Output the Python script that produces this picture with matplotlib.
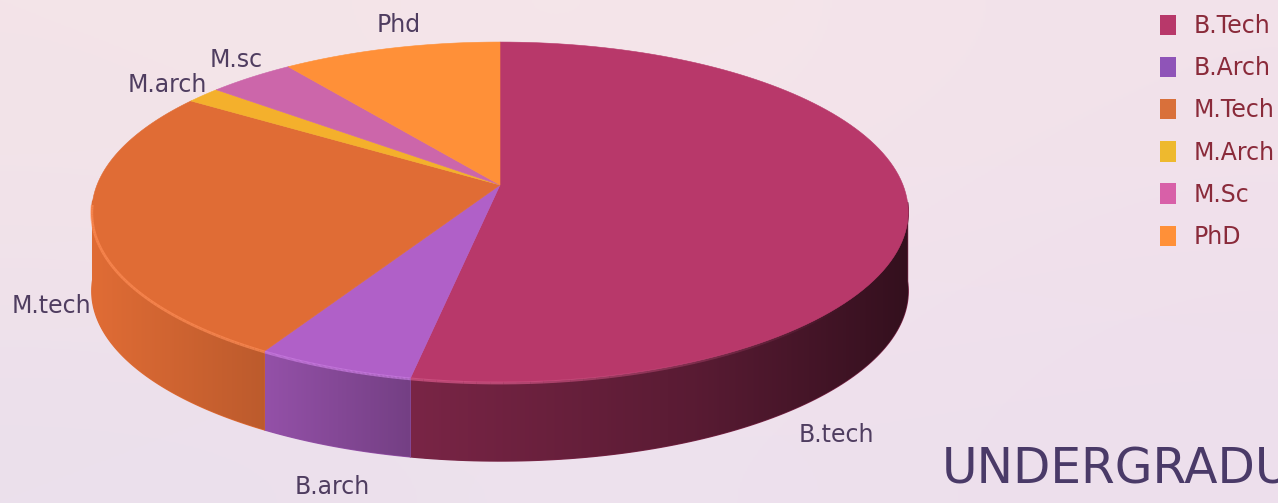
import numpy as np
import matplotlib
matplotlib.use('Agg')
import matplotlib.pyplot as plt
from matplotlib.patches import Patch, Polygon
from matplotlib.colors import to_rgb

# slice data, clockwise from 12 o'clock
slice_labels = ['B.tech', 'B.arch', 'M.tech', 'M.arch', 'M.sc', 'Phd']
legend_labels = ['B.Tech', 'B.Arch', 'M.Tech', 'M.Arch', 'M.Sc', 'PhD']
shares = [53.0, 5.4, 25.9, 1.6, 4.0, 10.1]
colors = ['#b8386a', '#b060c8', '#e06c35', '#f4b02c', '#cc66aa', '#ff9038']
legend_colors = ['#b8386a', '#8f54b8', '#d9703a', '#eeb92e', '#d860a8', '#ff9038']
label_pos = [(836, 435), (332, 487), (51, 306), (167, 85), (236, 60), (399, 25)]

# pie geometry in pixels
cx, cy = 500, 185
R, H, k = 403, 165.7, 0.159
depth = 79


def project(theta):
    # theta in degrees clockwise from the top, simple perspective tilt
    t = np.radians(theta)
    u, v = np.sin(t), np.cos(t)
    s = 1 / (1 + k * v)
    return cx + R * u * s, cy - H * v * s


def side_shade(x):
    return np.interp(x, [92, 265, 410, 700, 908], [1.0, 0.84, 0.66, 0.48, 0.28])


fig = plt.figure(figsize=(12.78, 5.03), dpi=100)
ax = fig.add_axes([0, 0, 1, 1])
ax.axis('off')

# soft pink background
bg = np.array([[to_rgb('#f3e4e8'), to_rgb('#f6e6ea'), to_rgb('#f2e2ea')],
               [to_rgb('#f1e2ea'), to_rgb('#f3e4ec'), to_rgb('#f0e0ec')],
               [to_rgb('#ebe0ec'), to_rgb('#eee2ee'), to_rgb('#eddfec')]])
ax.imshow(bg, extent=(0, 1278, 503, 0), aspect='auto', interpolation='bicubic', zorder=0)

edges = 360 * np.cumsum([0] + shares) / np.sum(shares)

# side wall: a horizontal gradient clipped to each slice's wall
for i in range(len(shares)):
    base = np.array(to_rgb(colors[i]))
    th = np.linspace(edges[i], edges[i + 1], 200)
    xs, ys = project(th)
    front = ys > 200
    if not front.any():
        continue
    xs, ys = xs[front], ys[front]
    x0, x1 = xs.min(), xs.max()
    wall_x = np.r_[xs, xs[::-1]]
    wall_y = np.r_[ys, ys[::-1] + depth]

    # flat underlay hides the seam between two clipped gradients
    ax.fill(wall_x, wall_y, color=base * side_shade(min(x0, x1)), lw=1, zorder=1.5)

    grad_x = np.linspace(x0, x1, 256)
    grad = np.clip(base[None, None, :] * side_shade(grad_x)[None, :, None], 0, 1)
    im = ax.imshow(grad, extent=(x0, x1, ys.max() + depth, ys.min()), aspect='auto',
                   interpolation='bilinear', zorder=2)
    wall = Polygon(np.c_[wall_x, wall_y], transform=ax.transData,
                   facecolor='none', edgecolor='none')
    ax.add_patch(wall)
    im.set_clip_path(wall)

# top face
for i in range(len(shares)):
    th = np.linspace(edges[i], edges[i + 1], 120)
    xs, ys = project(th)
    ax.fill(np.r_[cx, xs], np.r_[cy, ys], color=colors[i], lw=0.4, zorder=3)

    # lighter rim along the front edge, fading out towards the dark right side
    base = np.array(to_rgb(colors[i]))
    rim = np.clip(base + 0.13, 0, 1)
    for j in range(len(th) - 1):
        a = np.interp(xs[j], [500, 850], [0.7, 0.0])
        if ys[j] > 205 and a > 0:
            ax.plot(xs[j:j + 2], ys[j:j + 2] + 1, color=rim, lw=2, alpha=a, zorder=4,
                    solid_capstyle='butt')

for text, (x, y) in zip(slice_labels, label_pos):
    ax.text(x, y, text, color='#4f3d60', fontsize=17, ha='center', va='center', zorder=5)

ax.text(942, 469, 'UNDERGRADUATE', color='#4a3a68', fontsize=35, ha='left', va='center',
        zorder=5, clip_on=False)

handles = [Patch(facecolor=c, edgecolor='none') for c in legend_colors]
ax.legend(handles, legend_labels, loc='upper left', bbox_to_anchor=(1160 / 1278, 1 - 14 / 503),
          frameon=False, fontsize=17, labelcolor='#8a2a3a', handlelength=0.68, handleheight=0.95,
          handletextpad=0.75, labelspacing=0.77, borderpad=0, borderaxespad=0)

ax.set_xlim(0, 1278)
ax.set_ylim(503, 0)

fig.savefig('out.png', dpi=100)
